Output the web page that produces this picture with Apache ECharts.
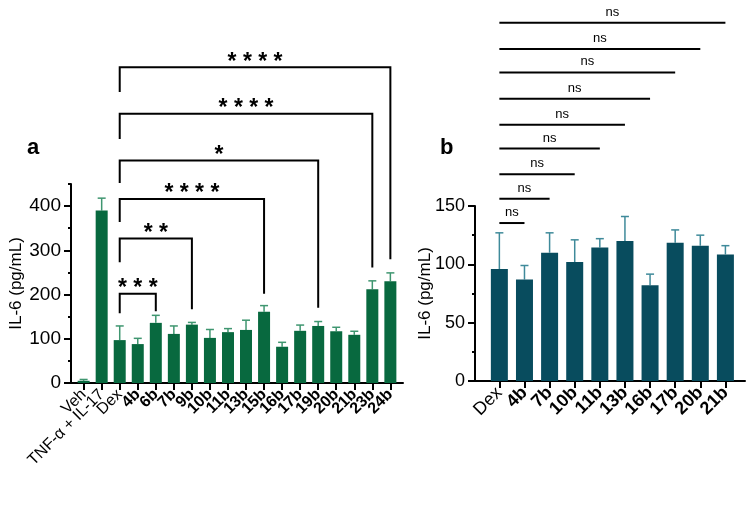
<!DOCTYPE html>
<html lang="en">
<head>
<meta charset="UTF-8">
<title>IL-6</title>
<script src="https://cdn.jsdelivr.net/npm/echarts@6/dist/echarts.min.js"></script>
</head>
<body style="margin:0;background:#fff">
<div id="main" style="width:754px;height:511px"></div>
<script>
// panel a
var catsA = ['Veh', 'TNF-α + IL-17', 'Dex', '4b', '6b', '7b', '9b', '10b', '11b', '13b', '15b', '16b', '17b', '19b', '20b', '21b', '23b', '24b'];
var meanA = [5, 390, 97, 88, 136, 111, 132, 102, 115, 120, 161, 82, 118, 129, 117, 109, 212, 230];
var errA  = [3, 28, 32, 13, 17, 18, 5, 19, 8, 22, 14, 10, 13, 10, 9, 8, 19, 19];
// brackets of panel a: from Dex to these groups
var brTo    = ['24b', '23b', '19b', '15b', '9b', '6b'];
var brTop   = [714, 609, 503, 416, 327, 202];
var brLeft  = [658, 552, 452, 364, 273, 158];
var brRight = [280, 261, 170, 202, 167, 162];
var brText  = ['****', '****', '*', '****', '**', '***'];

// panel b
var catsB = ['Dex', '4b', '7b', '10b', '11b', '13b', '16b', '17b', '20b', '21b'];
var meanB = [96, 87, 110, 102, 114.5, 120, 82, 118.5, 116, 108.5];
var errB  = [31, 12, 17, 19, 7.5, 21, 9.6, 11, 9, 7.5];
var nsTo  = ['21b', '20b', '17b', '16b', '13b', '11b', '10b', '7b', '4b'];
var nsY   = [307, 284.6, 264.5, 242, 219.6, 199.2, 177.3, 156.3, 135.4];

var plain = ['Veh', 'TNF-α + IL-17', 'Dex'];
var offA = 0.7, offB = 0.97;
var FONT = 'Liberation Sans, Arial, sans-serif';

function pos(cats, off) { return cats.map(function (c, i) { return i + off; }); }
var xA = pos(catsA, offA), xB = pos(catsB, offB);

function labelFmt(cats, off) {
  return function (v) {
    var c = cats[Math.round(v - off)];
    if (c === undefined) return '';
    return plain.indexOf(c) >= 0 ? '{n|' + c + '}' : '{b|' + c + '}';
  };
}

function errRender(color) {
  return function (params, api) {
    var x = api.value(0), y = api.value(1), e = api.value(2);
    var p0 = api.coord([x, y]), p1 = api.coord([x, y + e]);
    var st = { stroke: color, lineWidth: 1.5 };
    return { type: 'group', children: [
      { type: 'line', shape: { x1: p0[0], y1: p0[1], x2: p1[0], y2: p1[1] }, style: st },
      { type: 'line', shape: { x1: p1[0] - 4, y1: p1[1], x2: p1[0] + 4, y2: p1[1] }, style: st }
    ] };
  };
}

function bracketRender(params, api) {
  var x1 = api.value(0), x2 = api.value(1), top = api.value(2);
  var a = api.coord([x1, api.value(3)]), b = api.coord([x1, top]);
  var c = api.coord([x2, top]), d = api.coord([x2, api.value(4)]);
  return { type: 'group', children: [
    { type: 'polyline', shape: { points: [a, b, c, d] }, style: { stroke: '#000', lineWidth: 2, fill: null } },
    { type: 'text', x: (b[0] + c[0]) / 2, y: b[1] - 5,
      style: { text: brText[params.dataIndex].split('').join(' '), font: 'bold 23px ' + FONT,
               fill: '#000', align: 'center', verticalAlign: 'middle' } }
  ] };
}

function nsRender(params, api) {
  var y = api.value(2);
  var a = api.coord([api.value(0), y]), b = api.coord([api.value(1), y]);
  return { type: 'group', children: [
    { type: 'line', shape: { x1: a[0], y1: a[1], x2: b[0], y2: b[1] }, style: { stroke: '#000', lineWidth: 2 } },
    { type: 'text', x: (a[0] + b[0]) / 2, y: a[1] - 4,
      style: { text: 'ns', font: '13px ' + FONT, fill: '#000', align: 'center', verticalAlign: 'bottom' } }
  ] };
}

function xAxis(grid, max, vals, cats, off, fs) {
  // empty labels at both ends take the min/max overlap check
  var labelVals = [0].concat(vals, [max]);
  return {
    type: 'value', gridIndex: grid, min: 0, max: max,
    splitLine: { show: false },
    axisLine: { show: true, lineStyle: { color: '#000', width: 2 } },
    axisTick: { show: true, customValues: vals, length: 7, lineStyle: { color: '#000', width: 2 } },
    axisLabel: { customValues: labelVals, rotate: 45, margin: 9, color: '#000', formatter: labelFmt(cats, off),
      hideOverlap: false,
      rich: { n: { fontSize: fs, fontFamily: FONT, color: '#000' },
              b: { fontSize: fs, fontFamily: FONT, fontWeight: 'bold', color: '#000' } } }
  };
}

function yAxes(grid, max, minor, major, fs, name, gap) {
  var majors = [];
  for (var v = 0; v <= max; v += major) majors.push(v);
  return [{
    type: 'value', gridIndex: grid, position: 'left', min: 0, max: max, interval: minor,
    name: name, nameLocation: 'middle', nameGap: gap, nameMoveOverlap: false,
    nameTextStyle: { fontSize: 17, fontFamily: FONT, color: '#000' },
    splitLine: { show: false },
    axisLine: { show: true, lineStyle: { color: '#000', width: 2 } },
    axisTick: { show: true, length: 3, lineStyle: { color: '#000', width: 2 } },
    axisLabel: { customValues: majors, margin: 10, fontSize: fs, fontFamily: FONT, color: '#000',
      showMinLabel: true, showMaxLabel: true }
  }, {
    type: 'value', gridIndex: grid, position: 'left', offset: 0, min: 0, max: max,
    splitLine: { show: false },
    axisLine: { show: false },
    axisTick: { show: true, customValues: majors, length: 7, lineStyle: { color: '#000', width: 2 } },
    axisLabel: { show: false }
  }];
}

var dex = catsA.indexOf('Dex');
var brData = brTo.map(function (c, i) {
  return [xA[dex], xA[catsA.indexOf(c)], brTop[i], brLeft[i], brRight[i]];
});
var nsData = nsTo.map(function (c, i) {
  return [xB[0], xB[catsB.indexOf(c)], nsY[i]];
});

var option = {
  backgroundColor: '#fff',
  animation: false,
  grid: [
    { left: 71, top: 184, width: 332, height: 199 },
    { left: 475, top: 206, width: 270, height: 175 }
  ],
  graphic: [
    { type: 'text', left: 27, top: 137, style: { text: 'a', font: 'bold 22px ' + FONT, fill: '#000' } },
    { type: 'text', left: 440, top: 137, style: { text: 'b', font: 'bold 22px ' + FONT, fill: '#000' } }
  ],
  xAxis: [
    xAxis(0, 18.4, xA, catsA, offA, 16),
    xAxis(1, 10.75, xB, catsB, offB, 18)
  ],
  yAxis: yAxes(0, 450, 50, 100, 19, 'IL-6 (pg/mL)', 46).concat(yAxes(1, 150, 25, 50, 18, 'IL-6 (pg/mL)', 41)),
  series: [
    { type: 'bar', xAxisIndex: 0, yAxisIndex: 0, barWidth: 12, itemStyle: { color: '#08693f' },
      data: xA.map(function (x, i) { return [x, meanA[i]]; }) },
    { type: 'custom', xAxisIndex: 0, yAxisIndex: 0, renderItem: errRender('#3f9670'),
      encode: { x: 0, y: 1 }, data: xA.map(function (x, i) { return [x, meanA[i], errA[i]]; }) },
    { type: 'custom', xAxisIndex: 0, yAxisIndex: 0, renderItem: bracketRender, clip: false,
      encode: { x: [0, 1], y: 2 }, data: brData },
    { type: 'bar', xAxisIndex: 1, yAxisIndex: 2, barWidth: 17, itemStyle: { color: '#084c5e' },
      data: xB.map(function (x, i) { return [x, meanB[i]]; }) },
    { type: 'custom', xAxisIndex: 1, yAxisIndex: 2, renderItem: errRender('#3f8a9a'),
      encode: { x: 0, y: 1 }, data: xB.map(function (x, i) { return [x, meanB[i], errB[i]]; }) },
    { type: 'custom', xAxisIndex: 1, yAxisIndex: 2, renderItem: nsRender, clip: false,
      encode: { x: [0, 1], y: 2 }, data: nsData }
  ]
};

var myChart = echarts.init(document.getElementById('main'));
myChart.setOption(option);
</script>
</body>
</html>
